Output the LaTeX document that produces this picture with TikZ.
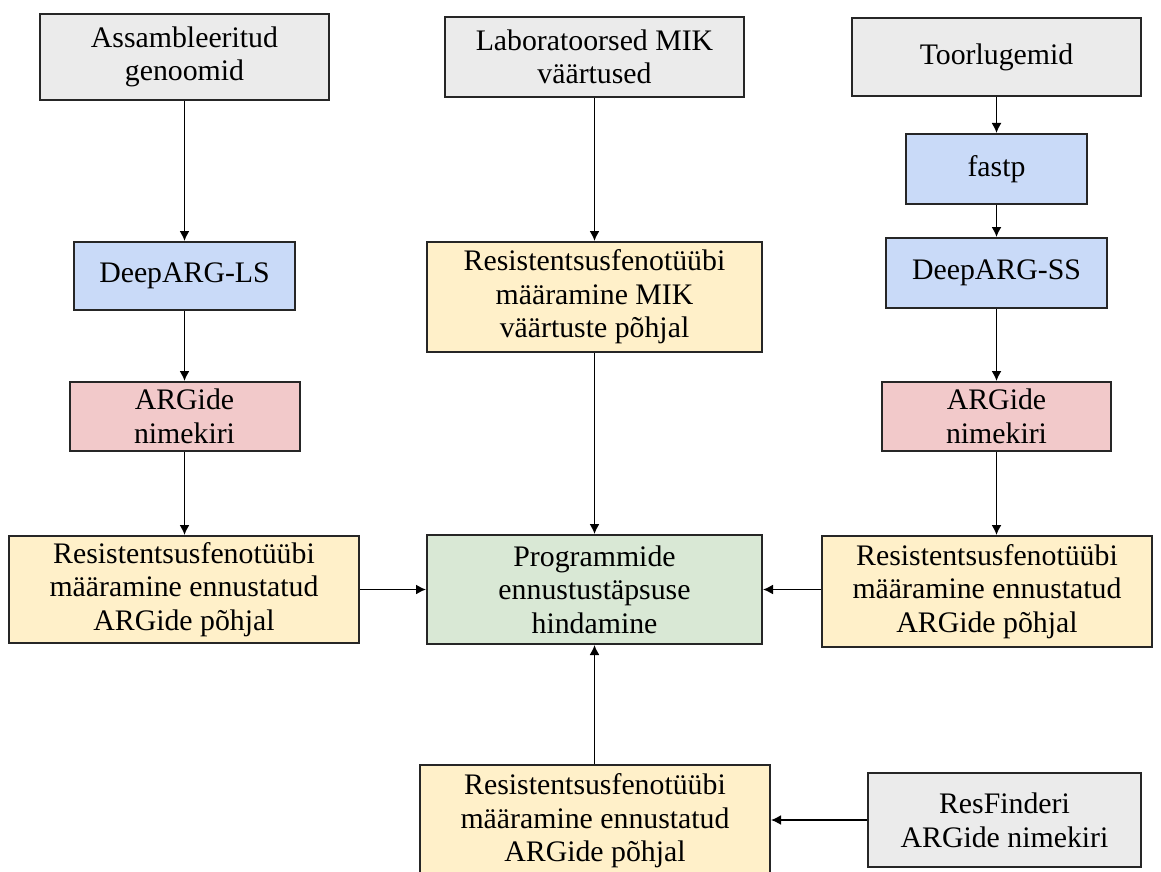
\documentclass[tikz,border=0pt]{standalone}
\usepackage{fontspec}
\setmainfont{Liberation Serif}
\usetikzlibrary{arrows.meta}
\definecolor{ingray}{HTML}{EBEBEB}
\definecolor{toolblue}{HTML}{C9DAF8}
\definecolor{listred}{HTML}{F2C9CA}
\definecolor{phenoyellow}{HTML}{FFF0C9}
\definecolor{evalgreen}{HTML}{D9E8D5}
\begin{document}
\begin{tikzpicture}[x=0.5pt,y=-0.5pt,
  box/.style={draw=black!85, line width=1pt, align=center, inner sep=0pt,
    font=\fontsize{14.9}{16.8}\selectfont},
  arr/.style={-{Latex[length=5pt,width=5pt]}, line width=0.8pt}]
  \useasboundingbox (0,0) rectangle (1161,872);
  \clip (0,0) rectangle (1161,872);

  \node[box, fill=ingray, minimum width=144.5pt, minimum height=43pt] (gen) at (184.5,57) {Assambleeritud\\genoomid};
  \node[box, fill=ingray, minimum width=149.5pt, minimum height=40pt] (mik) at (594.5,57) {Laboratoorsed MIK\\väärtused};
  \node[box, fill=ingray, minimum width=144.5pt, minimum height=39pt] (toor) at (996.5,57) {Toorlugemid};

  \node[box, fill=toolblue, minimum width=90.5pt, minimum height=35pt] (fastp) at (996.5,169) {fastp};
  \node[box, fill=toolblue, minimum width=110.5pt, minimum height=34pt] (dls) at (184.5,276) {DeepARG-LS};
  \node[box, fill=toolblue, minimum width=110.5pt, minimum height=35pt] (dss) at (996.5,273) {DeepARG-SS};
  \node[box, fill=phenoyellow, minimum width=167.5pt, minimum height=55pt] (mikres) at (594.5,297) {Resistentsusfenotüübi\\määramine MIK\\väärtuste põhjal};

  \node[box, fill=listred, minimum width=115pt, minimum height=34.5pt] (argl) at (184.5,416.5) {ARGide\\nimekiri};
  \node[box, fill=listred, minimum width=114.5pt, minimum height=34.5pt] (argr) at (996.5,416.5) {ARGide\\nimekiri};

  \node[box, fill=phenoyellow, minimum width=175pt, minimum height=53.5pt] (resl) at (184,589.5) {Resistentsusfenotüübi\\määramine ennustatud\\ARGide põhjal};
  \node[box, fill=evalgreen, minimum width=167.5pt, minimum height=54.5pt] (eval) at (594.5,589.5) {Programmide\\ennustustäpsuse\\hindamine};
  \node[box, fill=phenoyellow, minimum width=165pt, minimum height=55.5pt] (resr) at (987,591.5) {Resistentsusfenotüübi\\määramine ennustatud\\ARGide põhjal};

  \node[box, fill=phenoyellow, minimum width=175pt, minimum height=56pt] (resb) at (595,821) {Resistentsusfenotüübi\\määramine ennustatud\\ARGide põhjal};
  \node[box, fill=ingray, minimum width=136.5pt, minimum height=47pt] (resf) at (1004.5,820) {ResFinderi\\ARGide nimekiri};

  \draw[arr] (gen) -- (dls);
  \draw[arr] (dls) -- (argl);
  \draw[arr] (argl) -- (argl |- resl.north);
  \draw[arr] (mik) -- (mikres);
  \draw[arr] (mikres) -- (eval);
  \draw[arr] (toor) -- (fastp);
  \draw[arr] (fastp) -- (dss);
  \draw[arr] (dss) -- (argr);
  \draw[arr] (argr) -- (argr |- resr.north);
  \draw[arr] (resl) -- (eval);
  \draw[arr] (resr.west |- eval) -- (eval);
  \draw[arr] (resb.north -| eval) -- (eval);
  \draw[arr] (resf) -- (resb.east |- resf);
\end{tikzpicture}
\end{document}
